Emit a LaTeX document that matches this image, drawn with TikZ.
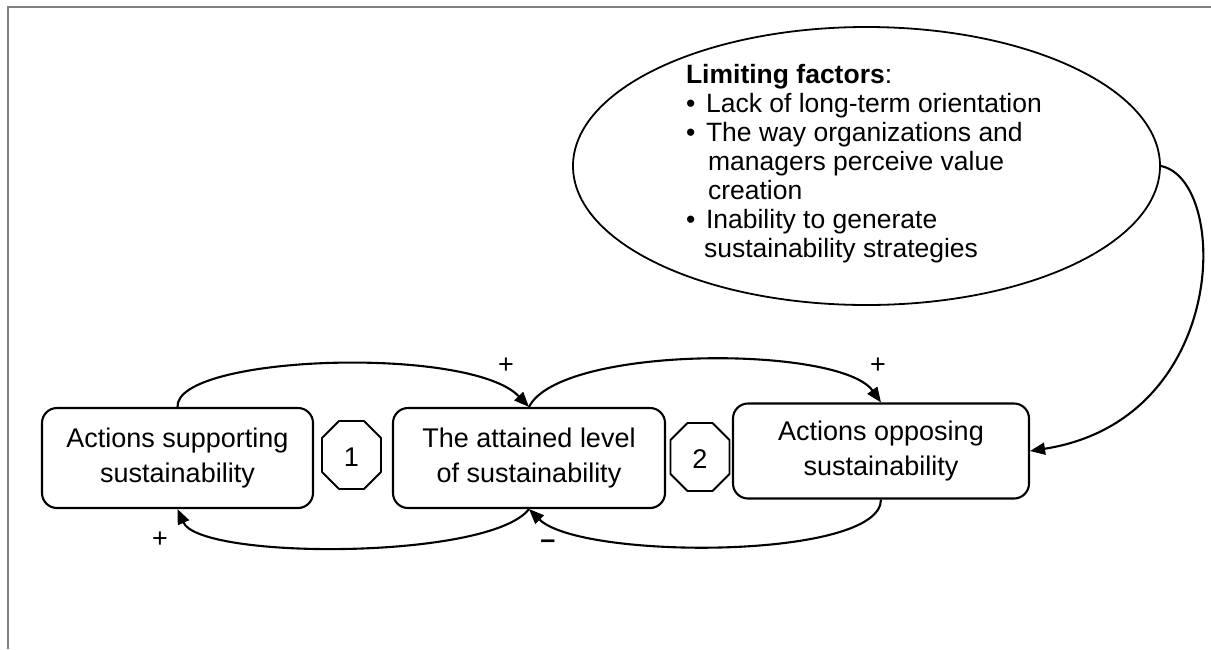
\documentclass[tikz,border=0pt]{standalone}
\usepackage{fontspec}
\setmainfont{Liberation Sans}
\usetikzlibrary{arrows.meta,shapes.geometric}
\begin{document}
\begin{tikzpicture}[x=1pt,y=-1pt,
  line width=2.1pt,
  box/.style={draw,rounded corners=15pt,align=center,inner sep=0pt,
    font=\fontsize{27}{35}\selectfont},
  octnum/.style={font=\fontsize{27}{32}\selectfont,inner sep=0pt},
  octline/.style={draw,line width=1.8pt,line join=round},
  link/.style={-{Triangle[length=15pt,width=12pt]}},
  sign/.style={font=\fontsize{27}{32}\selectfont,inner sep=0pt},
  frameline/.style={draw=black!50,line width=2.2pt}]
\useasboundingbox (0,0) rectangle (1211,649);

% outer frame (top and left edges)
\draw[frameline] (8,649) -- (8,7) -- (1211,7);

% the three stocks
\node[box,minimum width=271pt,minimum height=100pt] (b1) at (177.5,458)
  {Actions supporting\\sustainability};
\node[box,minimum width=272pt,minimum height=100pt] (b2) at (529,458)
  {The attained level\\of sustainability};
\node[box,minimum width=296pt,minimum height=95pt] (b3) at (881,451)
  {Actions opposing\\sustainability};

% loop markers
\node[octnum] (n1) at (351.5,457) {1};
\node[octnum] (n2) at (700,459) {2};
\draw[octline] (n1.center) ++(-12.5,-36) -- ++(25,0) -- ++(17,17) -- ++(0,34)
  -- ++(-17,17) -- ++(-25,0) -- ++(-17,-17) -- ++(0,-34) -- cycle;
\draw[octline] (n2.center) ++(-12.5,-36) -- ++(25,0) -- ++(17,17) -- ++(0,34)
  -- ++(-17,17) -- ++(-25,0) -- ++(-17,-17) -- ++(0,-34) -- cycle;

% limiting factors
\node[draw,ellipse,minimum width=587pt,minimum height=278pt,inner sep=0pt,
  line width=1.8pt] (lim) at (866.5,166) {};
\node[anchor=north west,align=left,inner sep=0pt,
  font=\fontsize{26.5}{29}\selectfont] (limtext) at (685,63)
  {\textbf{Limiting factors}:\\
   \makebox[20pt][l]{\textbullet}Lack of long-term orientation\\
   \makebox[20pt][l]{\textbullet}The way organizations and\\
   \hspace*{22pt}managers perceive value\\
   \hspace*{22pt}creation\\
   \makebox[20pt][l]{\textbullet}Inability to generate\\
   \hspace*{18pt}sustainability strategies};

% causal links
\draw[link] (b1.north) .. controls (175,355) and (470,345) .. (b2.north);
\draw[link] (b2.north) .. controls (560,345) and (840,345) .. (b3.north);
\draw[link] (b3.south) .. controls (881,560) and (580,560) .. (b2.south);
\draw[link] (b2.south) .. controls (490,560) and (200,560) .. (b1.south);
\draw[link] (lim.east) .. controls (1230,180) and (1230,420) .. (b3.east);

% polarities
\node[sign] (p1) at (506,366) {+};
\node[sign] (p2) at (878,366) {+};
\node[sign] (p3) at (160,540) {+};
\node[sign] (m1) at (548,544) {\textbf{--}};
\end{tikzpicture}
\end{document}
